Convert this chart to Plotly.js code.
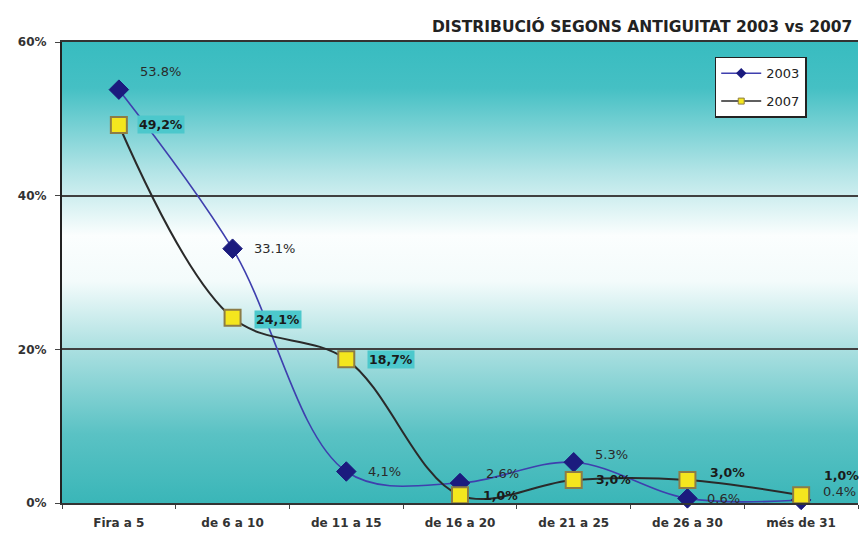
<!DOCTYPE html>
<html>
<head>
<meta charset="utf-8">
<script src="https://cdn.plot.ly/plotly-3.0.1.min.js"></script>
<style>
html,body{margin:0;padding:0;background:#fff;}
#chart{width:865px;height:536px;}
</style>
</head>
<body>
<div id="chart"></div>
<script>
// ---- data ----
const categories = ["Fira a 5", "de 6 a 10", "de 11 a 15", "de 16 a 20", "de 21 a 25", "de 26 a 30", "més de 31"];
const values2003 = [53.8, 33.1, 4.1, 2.6, 5.3, 0.6, 0.4];
const values2007 = [49.2, 24.1, 18.7, 1.0, 3.0, 3.0, 1.0];
const labels2003 = ["53.8%", "33.1%", "4,1%", "2.6%", "5.3%", "0.6%", "0.4%"];
const labels2007 = ["49,2%", "24,1%", "18,7%", "1,0%", "3,0%", "3,0%", "1,0%"];
const yTickVals = [0, 20, 40, 60];
const yTickText = ["0%", "20%", "40%", "60%"];
const titleText = "DISTRIBUCIÓ SEGONS ANTIGUITAT 2003 vs 2007";

// ---- label offsets (pixels) ----
const off2003 = [[42, 18], [42, 0], [38, 0], [42, 10], [38, 8], [36, 0], [38, 8]];
const off2007 = [[42, 0], [45, -2], [45, 0], [40, 0], [40, 0], [40, 7], [40, 20]];

const svgBg = '<svg xmlns="http://www.w3.org/2000/svg" width="100" height="100" preserveAspectRatio="none">' +
  '<defs><linearGradient id="g" x1="0" y1="0" x2="0" y2="1">' +
  '<stop offset="0" stop-color="#38bcc0"/>' +
  '<stop offset="0.10" stop-color="#45c0c4"/>' +
  '<stop offset="0.28" stop-color="#b2e4e6"/>' +
  '<stop offset="0.42" stop-color="#fbfefe"/>' +
  '<stop offset="0.52" stop-color="#f3fbfb"/>' +
  '<stop offset="0.67" stop-color="#a9dfe0"/>' +
  '<stop offset="0.85" stop-color="#5ac2c4"/>' +
  '<stop offset="1" stop-color="#3ab6b8"/>' +
  '</linearGradient></defs><rect width="100" height="100" fill="url(#g)"/></svg>';
const bgSrc = 'data:image/svg+xml;charset=utf-8,' + encodeURIComponent(svgBg);

const FONT = "DejaVu Sans, Verdana, sans-serif";

const traces = [
  {
    x: categories, y: values2003, name: "2003", type: "scatter", mode: "lines+markers",
    line: {color: "#3f3fae", width: 1.6, shape: "spline", smoothing: 1},
    marker: {symbol: "diamond", size: 15, color: "#1b1b7e", line: {color: "#1b1b7e", width: 1}},
    cliponaxis: false, showlegend: false
  },
  {
    x: categories, y: values2007, name: "2007", type: "scatter", mode: "lines+markers",
    line: {color: "#2a2a2a", width: 2, shape: "spline", smoothing: 1},
    marker: {symbol: "square", size: 16, color: "#f4e61e", line: {color: "#8c7c46", width: 2}},
    cliponaxis: false, showlegend: false
  },
  // legend-only entries with small markers, as in the reference legend
  {
    x: [null], y: [null], name: "2003", type: "scatter", mode: "lines+markers", legendgroup: "a",
    line: {color: "#3f3fae", width: 1.5},
    marker: {symbol: "diamond", size: 8, color: "#1b1b7e"}
  },
  {
    x: [null], y: [null], name: "2007", type: "scatter", mode: "lines+markers", legendgroup: "b",
    line: {color: "#2a2a2a", width: 1.5},
    marker: {symbol: "square", size: 6, color: "#f4e61e", line: {color: "#8c7c46", width: 1}}
  }
];

const annotations = [];
categories.forEach((c, i) => {
  annotations.push({
    x: c, y: values2003[i], xref: "x", yref: "y", text: labels2003[i], showarrow: false,
    xshift: off2003[i][0], yshift: off2003[i][1],
    font: {family: FONT, size: 13, color: "#2a2a2a"}
  });
  annotations.push({
    x: c, y: values2007[i], xref: "x", yref: "y", text: "<b>" + labels2007[i] + "</b>", showarrow: false,
    xshift: off2007[i][0], yshift: off2007[i][1],
    bgcolor: (i < 3 ? "#4cc8cc" : "rgba(0,0,0,0)"), borderpad: 1,
    font: {family: FONT, size: 12.5, color: "#1a1a1a"}
  });
});
annotations.push({
  text: "<b>" + titleText + "</b>", xref: "paper", yref: "paper", x: 1, y: 1, xanchor: "right", yanchor: "bottom",
  xshift: -4, yshift: 4, showarrow: false,
  font: {family: FONT, size: 15.5, color: "#222"}
});

const layout = {
  width: 865, height: 536,
  margin: {l: 62, r: 7, t: 42, b: 33},
  paper_bgcolor: "#ffffff",
  plot_bgcolor: "rgba(0,0,0,0)",
  showlegend: true,
  legend: {
    x: 0.82, y: 0.968, xanchor: "left", yanchor: "top",
    bgcolor: "#ffffff", bordercolor: "#222", borderwidth: 1.5,
    font: {family: FONT, size: 13, color: "#222"},
    tracegroupgap: 8, itemwidth: 40
  },
  xaxis: {
    type: "category", range: [-0.5, 6.5],
    showgrid: false, zeroline: false,
    showline: true, mirror: true, linecolor: "#333", linewidth: 2,
    ticks: "outside", tickson: "boundaries", ticklen: 4, tickcolor: "#444",
    ticklabelstandoff: 8,
    tickfont: {family: FONT, size: 12, color: "#333", weight: "bold"}
  },
  yaxis: {
    range: [0, 60], tickvals: yTickVals, ticktext: yTickText,
    showgrid: true, gridcolor: "#404040", gridwidth: 2,
    zeroline: false,
    showline: true, linecolor: "#222", linewidth: 2,
    ticks: "outside", ticklen: 5, tickcolor: "#444",
    ticklabelstandoff: 6,
    tickfont: {family: FONT, size: 12, color: "#333", weight: "bold"}
  },
  images: [{
    source: bgSrc, xref: "paper", yref: "paper", x: 0, y: 1, sizex: 1, sizey: 1,
    xanchor: "left", yanchor: "top", sizing: "stretch", layer: "below"
  }],
  annotations: annotations
};

Plotly.newPlot("chart", traces, layout, {displayModeBar: false, staticPlot: true});
</script>
</body>
</html>
